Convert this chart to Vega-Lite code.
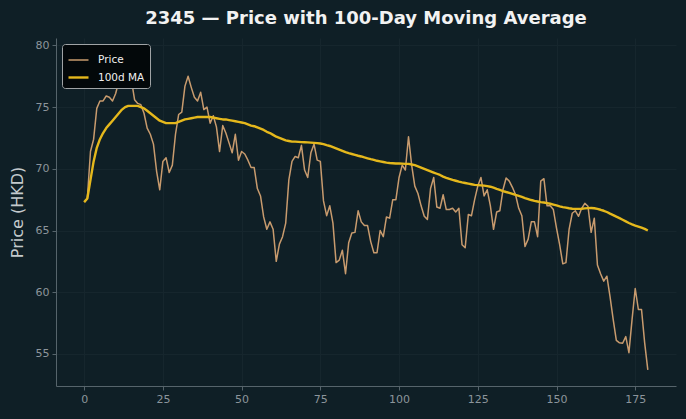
{
  "$schema": "https://vega.github.io/schema/vega-lite/v6.json",
  "width": 620,
  "height": 348,
  "autosize": {"type": "none"},
  "padding": {"left": 56, "top": 38, "right": 10, "bottom": 33},
  "background": "#0f1f26",
  "title": {
    "text": "2345 — Price with 100-Day Moving Average",
    "font": "DejaVu Sans",
    "fontSize": 18,
    "fontWeight": "bold",
    "color": "#f2f2f2",
    "anchor": "middle",
    "offset": 10
  },
  "config": {
    "view": {"stroke": null, "fill": "#0f1f26"},
    "font": "DejaVu Sans",
    "axis": {
      "domainColor": "#56646b",
      "tickColor": "#56646b",
      "tickSize": 4,
      "gridColor": "#16262d",
      "gridWidth": 1,
      "labelColor": "#8c959b",
      "labelFontSize": 11,
      "labelFont": "DejaVu Sans",
      "labelPadding": 3,
      "titleColor": "#c4cacd",
      "titleFont": "DejaVu Sans",
      "titleFontWeight": "normal"
    },
    "legend": {
      "orient": "top-left",
      "offset": 6,
      "fillColor": "#03080a",
      "strokeColor": "#a0a4a6",
      "cornerRadius": 3,
      "padding": 5,
      "labelColor": "#f0f0f0",
      "labelFontSize": 10.5,
      "labelFont": "DejaVu Sans",
      "symbolType": "stroke",
      "symbolSize": 400,
      "rowPadding": -3,
      "labelOffset": 8,
      "title": null
    }
  },
  "data": {
    "values": [
      {"x": 0, "price": 67.3, "ma": 67.3},
      {"x": 1, "price": 67.6, "ma": 67.6},
      {"x": 2, "price": 71.4, "ma": 69.1},
      {"x": 3, "price": 72.4, "ma": 70.6},
      {"x": 4, "price": 74.9, "ma": 71.7},
      {"x": 5, "price": 75.5, "ma": 72.4},
      {"x": 6, "price": 75.5, "ma": 72.9},
      {"x": 7, "price": 75.9, "ma": 73.3},
      {"x": 8, "price": 75.8, "ma": 73.6},
      {"x": 9, "price": 75.5, "ma": 73.9},
      {"x": 10, "price": 76.1, "ma": 74.2},
      {"x": 11, "price": 77.1, "ma": 74.5},
      {"x": 12, "price": 78.2, "ma": 74.8},
      {"x": 13, "price": 79.3, "ma": 75.0},
      {"x": 14, "price": 78.6, "ma": 75.1},
      {"x": 15, "price": 77.2, "ma": 75.1},
      {"x": 16, "price": 75.6, "ma": 75.1},
      {"x": 17, "price": 75.3, "ma": 75.1},
      {"x": 18, "price": 75.2, "ma": 75.0},
      {"x": 19, "price": 74.5, "ma": 74.9},
      {"x": 20, "price": 73.3, "ma": 74.7},
      {"x": 21, "price": 72.8, "ma": 74.5},
      {"x": 22, "price": 72.0, "ma": 74.3},
      {"x": 23, "price": 69.8, "ma": 74.1},
      {"x": 24, "price": 68.3, "ma": 73.9},
      {"x": 25, "price": 70.6, "ma": 73.8},
      {"x": 26, "price": 70.9, "ma": 73.7},
      {"x": 27, "price": 69.7, "ma": 73.7},
      {"x": 28, "price": 70.3, "ma": 73.7},
      {"x": 29, "price": 72.8, "ma": 73.7},
      {"x": 30, "price": 74.4, "ma": 73.8},
      {"x": 31, "price": 74.6, "ma": 73.9},
      {"x": 32, "price": 76.7, "ma": 74.0},
      {"x": 33, "price": 77.5, "ma": 74.05},
      {"x": 34, "price": 76.6, "ma": 74.1},
      {"x": 35, "price": 75.8, "ma": 74.15},
      {"x": 36, "price": 75.5, "ma": 74.2},
      {"x": 37, "price": 76.2, "ma": 74.2},
      {"x": 38, "price": 74.8, "ma": 74.2},
      {"x": 39, "price": 75.0, "ma": 74.2},
      {"x": 40, "price": 73.7, "ma": 74.2},
      {"x": 41, "price": 74.3, "ma": 74.15},
      {"x": 42, "price": 73.4, "ma": 74.1},
      {"x": 43, "price": 71.4, "ma": 74.05},
      {"x": 44, "price": 73.5, "ma": 74.0},
      {"x": 45, "price": 72.9, "ma": 74.0},
      {"x": 46, "price": 72.1, "ma": 73.95},
      {"x": 47, "price": 71.3, "ma": 73.9},
      {"x": 48, "price": 72.8, "ma": 73.85},
      {"x": 49, "price": 70.7, "ma": 73.8},
      {"x": 50, "price": 71.4, "ma": 73.75},
      {"x": 51, "price": 71.2, "ma": 73.7},
      {"x": 52, "price": 70.7, "ma": 73.6},
      {"x": 53, "price": 70.1, "ma": 73.5},
      {"x": 54, "price": 70.1, "ma": 73.45},
      {"x": 55, "price": 68.4, "ma": 73.35},
      {"x": 56, "price": 67.8, "ma": 73.25},
      {"x": 57, "price": 66.1, "ma": 73.15},
      {"x": 58, "price": 65.1, "ma": 73.0},
      {"x": 59, "price": 65.7, "ma": 72.9},
      {"x": 60, "price": 65.1, "ma": 72.75},
      {"x": 61, "price": 62.5, "ma": 72.6},
      {"x": 62, "price": 63.9, "ma": 72.5},
      {"x": 63, "price": 64.5, "ma": 72.4},
      {"x": 64, "price": 65.6, "ma": 72.3},
      {"x": 65, "price": 69.1, "ma": 72.25},
      {"x": 66, "price": 70.6, "ma": 72.2},
      {"x": 67, "price": 71.0, "ma": 72.2},
      {"x": 68, "price": 70.9, "ma": 72.18},
      {"x": 69, "price": 71.9, "ma": 72.16},
      {"x": 70, "price": 69.9, "ma": 72.15},
      {"x": 71, "price": 69.3, "ma": 72.14},
      {"x": 72, "price": 71.3, "ma": 72.12},
      {"x": 73, "price": 72.0, "ma": 72.1},
      {"x": 74, "price": 70.7, "ma": 72.08},
      {"x": 75, "price": 70.6, "ma": 72.05},
      {"x": 76, "price": 67.4, "ma": 72.0},
      {"x": 77, "price": 66.2, "ma": 71.92},
      {"x": 78, "price": 67.0, "ma": 71.85},
      {"x": 79, "price": 65.6, "ma": 71.75},
      {"x": 80, "price": 62.4, "ma": 71.65},
      {"x": 81, "price": 62.6, "ma": 71.55},
      {"x": 82, "price": 63.4, "ma": 71.45},
      {"x": 83, "price": 61.5, "ma": 71.35},
      {"x": 84, "price": 64.0, "ma": 71.27},
      {"x": 85, "price": 64.8, "ma": 71.2},
      {"x": 86, "price": 64.85, "ma": 71.13},
      {"x": 87, "price": 66.6, "ma": 71.06},
      {"x": 88, "price": 65.7, "ma": 71.0},
      {"x": 89, "price": 65.4, "ma": 70.92},
      {"x": 90, "price": 65.4, "ma": 70.85},
      {"x": 91, "price": 64.1, "ma": 70.78},
      {"x": 92, "price": 63.2, "ma": 70.72},
      {"x": 93, "price": 63.2, "ma": 70.65},
      {"x": 94, "price": 65.0, "ma": 70.6},
      {"x": 95, "price": 64.5, "ma": 70.55},
      {"x": 96, "price": 66.1, "ma": 70.5},
      {"x": 97, "price": 66.0, "ma": 70.47},
      {"x": 98, "price": 67.5, "ma": 70.45},
      {"x": 99, "price": 67.5, "ma": 70.43},
      {"x": 100, "price": 69.3, "ma": 70.43},
      {"x": 101, "price": 70.3, "ma": 70.42},
      {"x": 102, "price": 69.9, "ma": 70.4},
      {"x": 103, "price": 72.6, "ma": 70.4},
      {"x": 104, "price": 70.3, "ma": 70.35},
      {"x": 105, "price": 68.6, "ma": 70.3},
      {"x": 106, "price": 68.0, "ma": 70.2},
      {"x": 107, "price": 67.0, "ma": 70.1},
      {"x": 108, "price": 66.15, "ma": 70.0},
      {"x": 109, "price": 65.9, "ma": 69.9},
      {"x": 110, "price": 68.4, "ma": 69.8},
      {"x": 111, "price": 69.3, "ma": 69.7},
      {"x": 112, "price": 66.9, "ma": 69.6},
      {"x": 113, "price": 66.8, "ma": 69.5},
      {"x": 114, "price": 67.9, "ma": 69.37},
      {"x": 115, "price": 66.7, "ma": 69.27},
      {"x": 116, "price": 66.7, "ma": 69.18},
      {"x": 117, "price": 66.8, "ma": 69.1},
      {"x": 118, "price": 66.5, "ma": 69.03},
      {"x": 119, "price": 66.8, "ma": 68.96},
      {"x": 120, "price": 63.85, "ma": 68.9},
      {"x": 121, "price": 63.6, "ma": 68.85},
      {"x": 122, "price": 66.3, "ma": 68.8},
      {"x": 123, "price": 66.2, "ma": 68.75},
      {"x": 124, "price": 67.5, "ma": 68.7},
      {"x": 125, "price": 68.6, "ma": 68.68},
      {"x": 126, "price": 69.3, "ma": 68.66},
      {"x": 127, "price": 67.8, "ma": 68.64},
      {"x": 128, "price": 68.3, "ma": 68.6},
      {"x": 129, "price": 67.0, "ma": 68.55},
      {"x": 130, "price": 65.1, "ma": 68.47},
      {"x": 131, "price": 66.5, "ma": 68.38},
      {"x": 132, "price": 66.6, "ma": 68.3},
      {"x": 133, "price": 68.3, "ma": 68.2},
      {"x": 134, "price": 69.26, "ma": 68.12},
      {"x": 135, "price": 69.0, "ma": 68.05},
      {"x": 136, "price": 68.5, "ma": 67.97},
      {"x": 137, "price": 67.9, "ma": 67.88},
      {"x": 138, "price": 66.8, "ma": 67.8},
      {"x": 139, "price": 66.2, "ma": 67.72},
      {"x": 140, "price": 63.7, "ma": 67.63},
      {"x": 141, "price": 64.3, "ma": 67.55},
      {"x": 142, "price": 65.7, "ma": 67.47},
      {"x": 143, "price": 65.7, "ma": 67.4},
      {"x": 144, "price": 64.5, "ma": 67.35},
      {"x": 145, "price": 69.0, "ma": 67.3},
      {"x": 146, "price": 69.2, "ma": 67.27},
      {"x": 147, "price": 67.0, "ma": 67.22},
      {"x": 148, "price": 67.0, "ma": 67.17},
      {"x": 149, "price": 66.7, "ma": 67.1},
      {"x": 150, "price": 65.2, "ma": 67.03},
      {"x": 151, "price": 63.85, "ma": 66.96},
      {"x": 152, "price": 62.3, "ma": 66.9},
      {"x": 153, "price": 62.4, "ma": 66.85},
      {"x": 154, "price": 65.1, "ma": 66.8},
      {"x": 155, "price": 66.4, "ma": 66.76},
      {"x": 156, "price": 66.6, "ma": 66.75},
      {"x": 157, "price": 66.15, "ma": 66.75},
      {"x": 158, "price": 66.8, "ma": 66.76},
      {"x": 159, "price": 67.2, "ma": 66.79},
      {"x": 160, "price": 66.96, "ma": 66.81},
      {"x": 161, "price": 64.85, "ma": 66.82},
      {"x": 162, "price": 66.0, "ma": 66.8},
      {"x": 163, "price": 62.2, "ma": 66.75},
      {"x": 164, "price": 61.5, "ma": 66.68},
      {"x": 165, "price": 60.9, "ma": 66.6},
      {"x": 166, "price": 61.3, "ma": 66.5},
      {"x": 167, "price": 59.65, "ma": 66.37},
      {"x": 168, "price": 57.8, "ma": 66.25},
      {"x": 169, "price": 56.1, "ma": 66.12},
      {"x": 170, "price": 55.9, "ma": 66.0},
      {"x": 171, "price": 55.86, "ma": 65.87},
      {"x": 172, "price": 56.4, "ma": 65.74},
      {"x": 173, "price": 55.1, "ma": 65.61},
      {"x": 174, "price": 57.8, "ma": 65.5},
      {"x": 175, "price": 60.3, "ma": 65.4},
      {"x": 176, "price": 58.6, "ma": 65.32},
      {"x": 177, "price": 58.6, "ma": 65.23},
      {"x": 178, "price": 55.9, "ma": 65.13},
      {"x": 179, "price": 53.7, "ma": 65.0}
    ]
  },
  "encoding": {
    "x": {
      "field": "x",
      "type": "quantitative",
      "scale": {"domain": [-8.95, 187.95], "nice": false, "zero": false},
      "axis": {"values": [0, 25, 50, 75, 100, 125, 150, 175], "title": null}
    }
  },
  "layer": [
    {
      "mark": {"type": "line", "interpolate": "linear", "strokeJoin": "round"},
      "encoding": {
        "y": {
          "field": "price",
          "type": "quantitative",
          "scale": {"domain": [52.4, 80.6], "nice": false, "zero": false},
          "axis": {
            "values": [55, 60, 65, 70, 75, 80],
            "title": "Price (HKD)",
            "titleFontSize": 16,
            "titlePadding": 10
          }
        },
        "color": {
          "datum": "Price",
          "scale": {"domain": ["Price", "100d MA"], "range": ["#c89b6e", "#e5b81c"]}
        },
        "strokeWidth": {
          "datum": "Price",
          "scale": {"domain": ["Price", "100d MA"], "range": [1.5, 2.4]}
        }
      }
    },
    {
      "mark": {"type": "line", "interpolate": "linear", "strokeJoin": "round"},
      "encoding": {
        "y": {"field": "ma", "type": "quantitative"},
        "color": {"datum": "100d MA"},
        "strokeWidth": {"datum": "100d MA"}
      }
    }
  ]
}
